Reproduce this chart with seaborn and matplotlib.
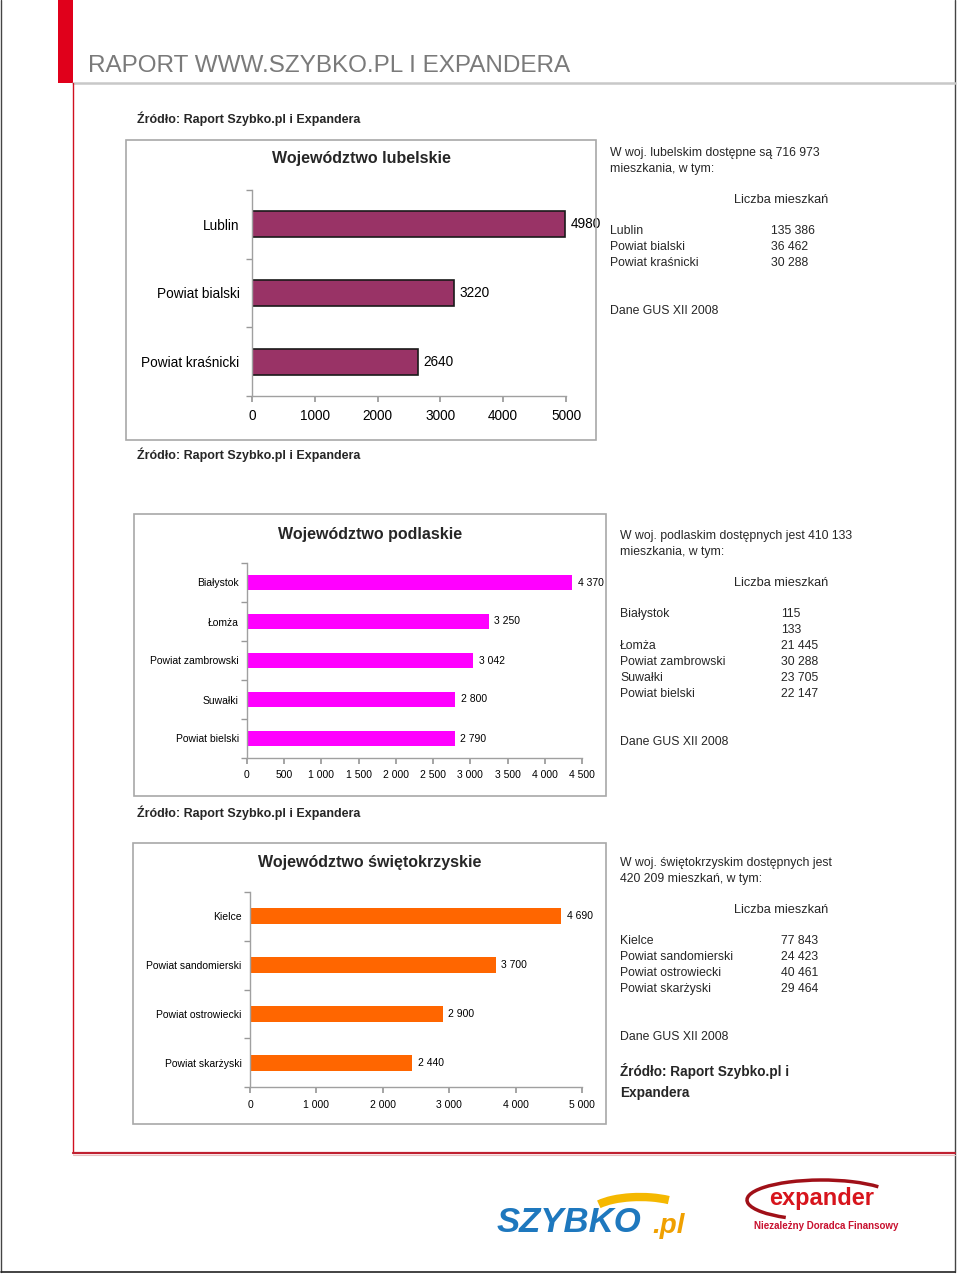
"""
Raport Szybko.pl i Expandera - liczba mieszkań w trzech województwach
"""
import matplotlib
matplotlib.use("Agg")
import matplotlib.pyplot as plt
from matplotlib.lines import Line2D
from matplotlib.patches import Rectangle, Arc
import seaborn as sns

# --- data ---
lub_names = ["Lublin", "Powiat bialski", "Powiat kraśnicki"]
lub_values = [4980, 3220, 2640]
lub_ticks = [0, 1000, 2000, 3000, 4000, 5000]

pod_names = ["Białystok", "Łomża", "Powiat zambrowski", "Suwałki", "Powiat bielski"]
pod_values = [4370, 3250, 3042, 2800, 2790]
pod_ticks = [0, 500, 1000, 1500, 2000, 2500, 3000, 3500, 4000, 4500]

swi_names = ["Kielce", "Powiat sandomierski", "Powiat ostrowiecki", "Powiat skarżyski"]
swi_values = [4690, 3700, 2900, 2440]
swi_ticks = [0, 1000, 2000, 3000, 4000, 5000]

lub_rows = [("Lublin", "135 386"), ("Powiat bialski", "36 462"), ("Powiat kraśnicki", "30 288")]
pod_rows = [("Białystok", "115\n133"), ("Łomża", "21 445"), ("Powiat zambrowski", "30 288"),
            ("Suwałki", "23 705"), ("Powiat bielski", "22 147")]
swi_rows = [("Kielce", "77 843"), ("Powiat sandomierski", "24 423"),
            ("Powiat ostrowiecki", "40 461"), ("Powiat skarżyski", "29 464")]

SOURCE = "Źródło: Raport Szybko.pl i Expandera"
W, H = 960, 1275

sns.set_theme(style="white")
plt.rcParams["font.family"] = ["Liberation Sans", "DejaVu Sans"]

fig = plt.figure(figsize=(W / 100, H / 100), dpi=100)


def px(x, y):
    """pixel position (from top-left) -> figure fraction"""
    return x / W, 1 - y / H


def fig_text(x, y, s, **kw):
    kw.setdefault("va", "center")
    kw.setdefault("fontsize", 8.8)
    fig.text(*px(x, y), s, **kw)


def fig_line(x0, y0, x1, y1, **kw):
    (a, b), (c, d) = px(x0, y0), px(x1, y1)
    fig.add_artist(Line2D([a, c], [b, d], transform=fig.transFigure, **kw))


def fig_box(x0, y0, x1, y1, **kw):
    a, b = px(x0, y1)
    fig.add_artist(Rectangle((a, b), (x1 - x0) / W, (y1 - y0) / H,
                             transform=fig.transFigure, fill=False, **kw))


def fmt(v, sep):
    return f"{v:,}".replace(",", sep)


def bar_panel(rect, names, values, ticks, color, bar_w, fs, sep, edge=None, ypad=6):
    ax = fig.add_axes(rect)
    sns.barplot(x=values, y=names, orient="h", color=color, width=bar_w,
                edgecolor=edge if edge else color, linewidth=1.2 if edge else 0,
                saturation=1, ax=ax)
    ax.set_xlim(ticks[0], ticks[-1])
    ax.set_ylim(len(names) - 0.5, -0.5)
    ax.set_xticks(ticks)
    ax.set_xticklabels([fmt(t, sep) for t in ticks], fontsize=fs, color="black")
    ax.set_yticks(range(len(names)))
    ax.set_yticklabels(names, fontsize=fs, color="black")
    ax.set_yticks([i - 0.5 for i in range(len(names) + 1)], minor=True)
    ax.tick_params(axis="y", which="major", length=0, pad=ypad)
    ax.tick_params(axis="y", which="minor", length=4, color="#999999", direction="out", left=True)
    ax.tick_params(axis="x", length=4, color="#999999", direction="out", bottom=True, pad=5)
    for s in ("top", "right"):
        ax.spines[s].set_visible(False)
    for s in ("left", "bottom"):
        ax.spines[s].set_color("#a0a0a0")
        ax.spines[s].set_linewidth(1)
    ax.set_xlabel("")
    ax.set_ylabel("")
    ax.set_facecolor("none")
    ax.bar_label(ax.containers[0], labels=[fmt(v, sep) for v in values],
                 padding=4, fontsize=fs, color="black")
    return ax


# --- page decoration ---
fig_line(1, 0, 1, 1272, color="#444444", lw=1)
fig_line(955, 0, 955, 1272, color="#444444", lw=1)
fig_line(1, 1272, 955, 1272, color="#222222", lw=1.2)
fig.add_artist(Rectangle(px(58, 83), 15 / W, 83 / H, transform=fig.transFigure,
                         color="#e0001b", lw=0))
fig_line(73, 83, 955, 83, color="#c8c8c8", lw=1.8)
fig_line(73, 83, 73, 1153, color="#d01020", lw=1.0)
fig_line(73, 1153, 955, 1153, color="#c02030", lw=1.6)
fig_line(73, 1155, 955, 1155, color="#e8c0c0", lw=0.8)
fig_text(88, 66, "RAPORT WWW.SZYBKO.PL I EXPANDERA", fontsize=17.5, color="#7a7a7a")

# --- lubelskie ---
fig_text(137, 119, SOURCE, fontsize=9, fontweight="bold")
fig_box(126, 140, 596, 440, edgecolor="#a8a8a8", lw=1.2)
fig_text(361, 158, "Województwo lubelskie", fontsize=11.5, fontweight="bold", ha="center")
bar_panel([252 / W, 1 - 396 / H, 314 / W, 206 / H], lub_names, lub_values, lub_ticks,
          "#993366", 0.38, 9.8, "", edge="#1a1a1a", ypad=9)
fig_text(610, 153, "W woj. lubelskim dostępne są 716 973")
fig_text(610, 169, "mieszkania, w tym:")
fig_text(734, 200, "Liczba mieszkań", fontsize=9.2)
for i, (n, v) in enumerate(lub_rows):
    fig_text(610, 231 + 16 * i, n)
    fig_text(771, 231 + 16 * i, v)
fig_text(610, 311, "Dane GUS XII 2008")

# --- podlaskie ---
fig_text(137, 455, SOURCE, fontsize=9, fontweight="bold")
fig_box(134, 514, 606, 796, edgecolor="#a8a8a8", lw=1.2)
fig_text(370, 534, "Województwo podlaskie", fontsize=11.5, fontweight="bold", ha="center")
bar_panel([247 / W, 1 - 758 / H, 335 / W, 195 / H], pod_names, pod_values, pod_ticks,
          "#ff00ff", 0.36, 7.5, " ")
fig_text(620, 536, "W woj. podlaskim dostępnych jest 410 133")
fig_text(620, 552, "mieszkania, w tym:")
fig_text(734, 583, "Liczba mieszkań", fontsize=9.2)
y = 614
for n, v in pod_rows:
    fig_text(620, y, n)
    for line in v.split("\n"):
        fig_text(781, y, line)
        y += 16
fig_text(620, 742, "Dane GUS XII 2008")

# --- świętokrzyskie ---
fig_text(137, 813, SOURCE, fontsize=9, fontweight="bold")
fig_box(133, 843, 606, 1124, edgecolor="#a8a8a8", lw=1.2)
fig_text(370, 862, "Województwo świętokrzyskie", fontsize=11.5, fontweight="bold", ha="center")
bar_panel([250 / W, 1 - 1087 / H, 332 / W, 195 / H], swi_names, swi_values, swi_ticks,
          "#ff6600", 0.33, 7.5, " ")
fig_text(620, 863, "W woj. świętokrzyskim dostępnych jest")
fig_text(620, 879, "420 209 mieszkań, w tym:")
fig_text(734, 910, "Liczba mieszkań", fontsize=9.2)
for i, (n, v) in enumerate(swi_rows):
    fig_text(620, 941 + 16 * i, n)
    fig_text(781, 941 + 16 * i, v)
fig_text(620, 1037, "Dane GUS XII 2008")
fig_text(620, 1071, "Źródło: Raport Szybko.pl i", fontsize=9.8, fontweight="bold")
fig_text(620, 1093, "Expandera", fontsize=9.8, fontweight="bold")

# --- logos ---
fig.add_artist(Arc(px(640, 1214), 100 / W, 34 / H, theta1=20, theta2=170,
                   transform=fig.transFigure, color="#f5b800", lw=6))
fig_text(497, 1222, "SZYBKO", fontsize=25, fontweight="bold", fontstyle="italic",
         color="#1e78be")
fig_text(652, 1226, ".pl", fontsize=20, fontweight="bold", fontstyle="italic",
         color="#f0a000")
fig.add_artist(Arc(px(822, 1200), 150 / W, 40 / H, theta1=10, theta2=200,
                   transform=fig.transFigure, color="#a01018", lw=2.5))
fig_text(822, 1199, "expander", fontsize=17, fontweight="bold", color="#d7141c",
         ha="center")
fig_text(826, 1226, "Niezależny Doradca Finansowy", fontsize=7, fontweight="bold",
         color="#c8102e", ha="center")

fig.savefig("out.png", dpi=100, facecolor="white")
